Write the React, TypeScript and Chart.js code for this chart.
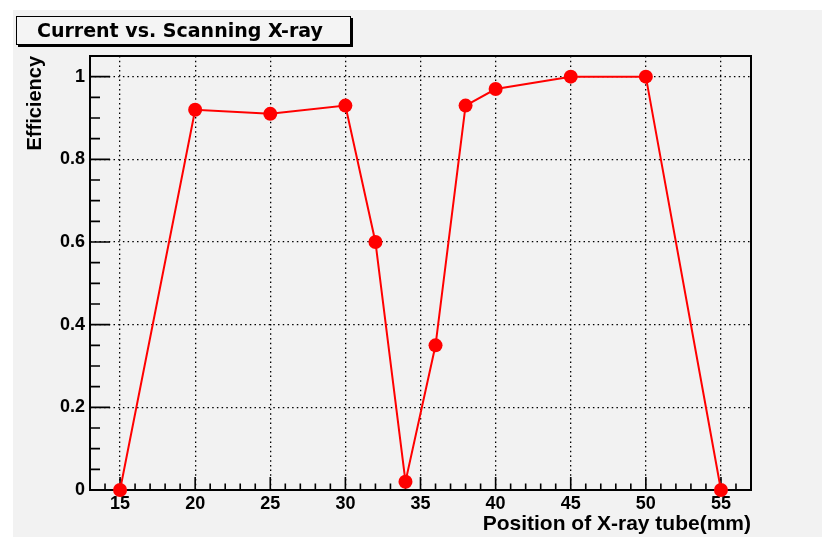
import { useEffect, useRef } from 'react';
import { Chart, registerables } from 'chart.js';

Chart.register(...registerables);

// ---- data ----
const positions = [15, 20, 25, 30, 32, 34, 36, 38, 40, 45, 50, 55];
const efficiency = [0, 0.92, 0.91, 0.93, 0.6, 0.02, 0.35, 0.93, 0.97, 1.0, 1.0, 0];
const xTickValues = [15, 20, 25, 30, 35, 40, 45, 50, 55];
const yTickValues = [0, 0.2, 0.4, 0.6, 0.8, 1];
const yTickLabels = ['0', '0.2', '0.4', '0.6', '0.8', '1'];
const xRange = [13, 57];
const yRange = [0, 1.05];
const xMinorStep = 1;
const yMinorStep = 0.05;
const chartTitle = 'Current vs. Scanning X-ray';
const xTitle = 'Position of X-ray tube(mm)';
const yTitle = 'Efficiency';

const TICK_FONT = { family: '"Liberation Sans", Arial, sans-serif', size: 18, weight: 'bold' as const };

const rootStyle = {
  id: 'rootStyle',
  beforeDraw(chart: any) {
    const ctx = chart.ctx;
    ctx.save();
    ctx.fillStyle = '#ffffff';
    ctx.fillRect(0, 0, chart.width, chart.height);
    ctx.fillStyle = '#f2f2f2';
    ctx.fillRect(13, 10, 809, 527);
    ctx.restore();
  },
  beforeDatasetsDraw(chart: any) {
    const { ctx, chartArea: a, scales } = chart;
    const xs = scales.x;
    const ys = scales.y;
    ctx.save();
    ctx.strokeStyle = '#000';
    ctx.lineWidth = 1.6;
    ctx.beginPath();
    const nx = Math.round((xRange[1] - xRange[0]) / xMinorStep);
    for (let i = 0; i <= nx; i++) {
      const v = xRange[0] + i * xMinorStep;
      const major = xTickValues.some((t) => Math.abs(t - v) < 1e-6);
      const px = xs.getPixelForValue(v);
      ctx.moveTo(px, a.bottom);
      ctx.lineTo(px, a.bottom - (major ? 13 : 6.5));
    }
    const ny = Math.round((yRange[1] - yRange[0]) / yMinorStep);
    for (let i = 0; i <= ny; i++) {
      const v = yRange[0] + i * yMinorStep;
      const major = yTickValues.some((t) => Math.abs(t - v) < 1e-6);
      const py = ys.getPixelForValue(v);
      ctx.moveTo(a.left, py);
      ctx.lineTo(a.left + (major ? 20 : 10), py);
    }
    ctx.stroke();
    ctx.lineWidth = 2;
    ctx.strokeRect(a.left, a.top, a.right - a.left, a.bottom - a.top);
    ctx.restore();
  },
  afterDraw(chart: any) {
    const ctx = chart.ctx;
    ctx.save();
    ctx.fillStyle = '#f4f4f4';
    ctx.fillRect(16, 16, 335, 29);
    ctx.fillStyle = '#000';
    ctx.fillRect(351, 18, 2, 29);
    ctx.fillRect(18, 45, 335, 2);
    ctx.strokeStyle = '#000';
    ctx.lineWidth = 1;
    ctx.strokeRect(16.5, 16.5, 334, 28);
    ctx.font = 'bold 19px "DejaVu Sans", sans-serif';
    ctx.textBaseline = 'alphabetic';
    ctx.textAlign = 'left';
    ctx.fillStyle = '#000';
    ctx.fillText(chartTitle, 37, 37);
    ctx.restore();
  },
};

export default function App() {
  const ref = useRef<HTMLCanvasElement>(null);
  useEffect(() => {
    const chart = new Chart(ref.current as HTMLCanvasElement, {
      type: 'line',
      data: {
        datasets: [
          {
            data: positions.map((x, i) => ({ x, y: efficiency[i] })),
            borderColor: '#ff0000',
            backgroundColor: '#ff0000',
            borderWidth: 2,
            pointRadius: 7,
            pointHoverRadius: 7,
            pointBorderWidth: 0,
            pointBackgroundColor: '#ff0000',
            tension: 0,
            clip: false as any,
          },
        ],
      },
      options: {
        animation: false,
        responsive: false,
        devicePixelRatio: 1,
        events: [],
        layout: { padding: { left: 0, right: 76, top: 56, bottom: 0 } },
        plugins: { legend: { display: false }, tooltip: { enabled: false } },
        scales: {
          x: {
            type: 'linear',
            min: xRange[0],
            max: xRange[1],
            afterBuildTicks: (s: any) => {
              s.ticks = xTickValues.map((v) => ({ value: v }));
            },
            afterFit: (s: any) => {
              s.height = 52;
            },
            grid: { color: '#000', lineWidth: 1.3, drawTicks: false },
            border: { display: false, dash: [1.5, 3.2] },
            ticks: { font: TICK_FONT, color: '#000', padding: 3, maxRotation: 0, autoSkip: false },
            title: {
              display: true,
              text: xTitle,
              align: 'end',
              color: '#000',
              font: { family: '"Liberation Sans", Arial, sans-serif', size: 21, weight: 'bold' },
              padding: { top: 0, bottom: 5 },
            },
          },
          y: {
            type: 'linear',
            min: yRange[0],
            max: yRange[1],
            afterBuildTicks: (s: any) => {
              s.ticks = yTickValues.map((v) => ({ value: v }));
            },
            afterFit: (s: any) => {
              s.width = 90;
            },
            grid: { color: '#000', lineWidth: 1.3, drawTicks: false },
            border: { display: false, dash: [1.5, 3.2] },
            ticks: {
              font: TICK_FONT,
              color: '#000',
              padding: 5,
              autoSkip: false,
              callback: (_v: any, i: number) => yTickLabels[i],
            },
            title: {
              display: true,
              text: yTitle,
              align: 'end',
              color: '#000',
              font: { family: '"Liberation Sans", Arial, sans-serif', size: 20, weight: 'bold' },
              padding: { top: 23, bottom: 0 },
            },
          },
        },
      },
      plugins: [rootStyle],
    } as any);
    return () => chart.destroy();
  }, []);
  return (
    <div style={{ position: 'fixed', left: 0, top: 0, width: 827, height: 542 }}>
      <canvas ref={ref} width={827} height={542} style={{ display: 'block' }} />
    </div>
  );
}
